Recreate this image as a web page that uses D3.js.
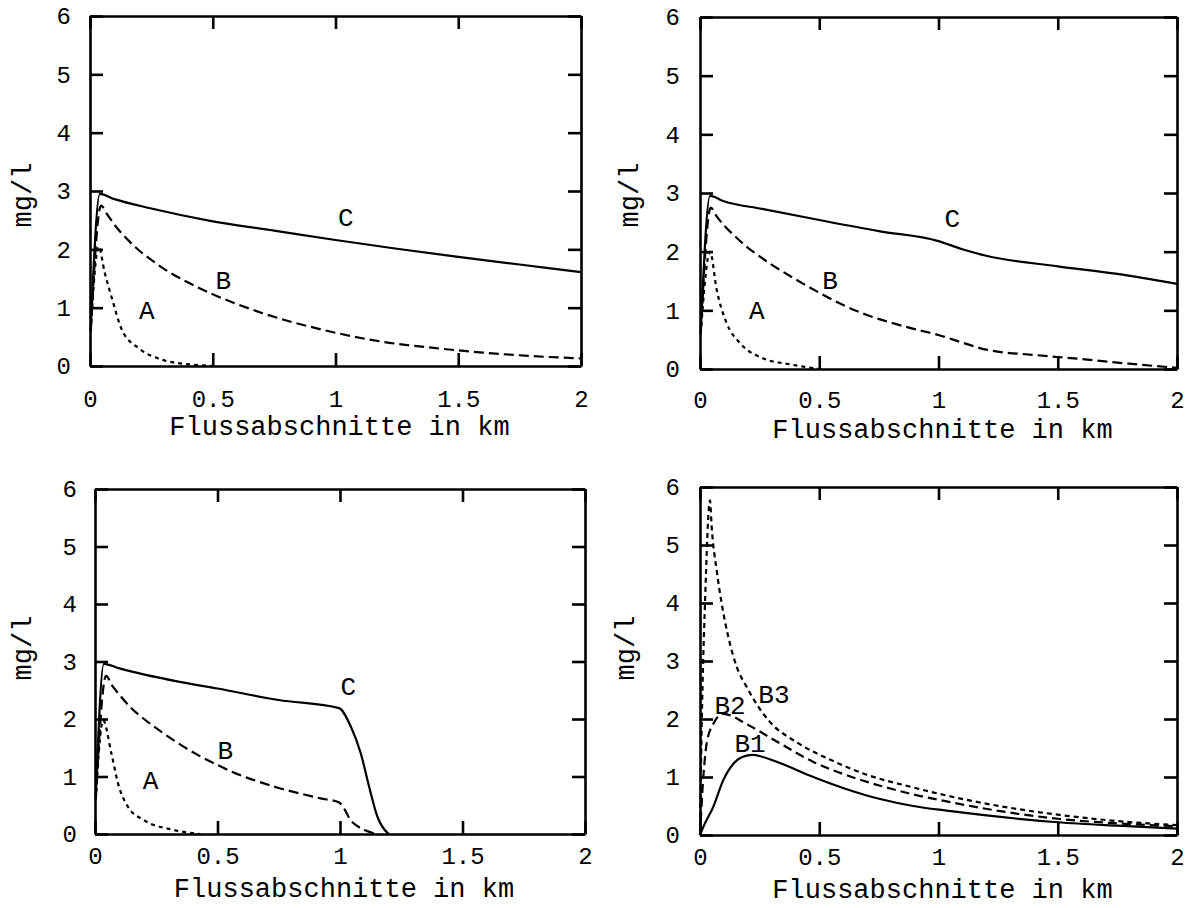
<!DOCTYPE html>
<html><head><meta charset="utf-8">
<script src="https://cdn.jsdelivr.net/npm/d3@7/dist/d3.min.js"></script>
<style>
body{margin:0;background:#fff}
svg{display:block;background:#fff}
text{font-family:"Liberation Mono","Courier New",monospace;fill:#000}
</style></head>
<body><svg id="c" width="1191" height="908"></svg>
<script>
// ---- axes / text ----
const xTicks = [0, 0.5, 1, 1.5, 2];
const xTickLabels = ["0", "0.5", "1", "1.5", "2"];
const yTicks = [0, 1, 2, 3, 4, 5, 6];
const yTickLabels = ["0", "1", "2", "3", "4", "5", "6"];
const xTitle = "Flussabschnitte in km";
const yTitle = "mg/l";

// ---- panel 1 (top left) ----
const p1A = [[0.003,0.6],[0.035,2.05],[0.06,1.6],[0.09,1.15],[0.13,0.62],[0.2,0.3],[0.3,0.1],[0.4,0.03],[0.5,0]];
const p1B = [[0.003,0.6],[0.045,2.75],[0.07,2.6],[0.1,2.42],[0.15,2.18],[0.2,1.98],[0.25,1.82],[0.3,1.67],[0.4,1.43],[0.5,1.23],[0.6,1.06],[0.7,0.91],[0.8,0.78],[0.9,0.67],[1.0,0.57],[1.2,0.41],[1.4,0.31],[1.6,0.23],[1.8,0.17],[2.0,0.13]];
const p1C = [[0.003,0.62],[0.04,2.95],[0.1,2.86],[0.25,2.7],[0.5,2.48],[0.75,2.32],[1,2.16],[1.25,2.01],[1.5,1.87],[1.75,1.74],[2,1.61]];
// ---- panel 2 (top right) ----
const p2A = [[0.003,0.6],[0.042,2.0],[0.07,1.35],[0.112,0.78],[0.168,0.44],[0.265,0.18],[0.377,0.08],[0.5,0]];
const p2B = [[0.003,0.6],[0.045,2.75],[0.07,2.6],[0.1,2.45],[0.15,2.25],[0.2,2.07],[0.25,1.92],[0.3,1.78],[0.4,1.53],[0.5,1.3],[0.6,1.09],[0.7,0.92],[0.8,0.79],[0.9,0.68],[1.0,0.58],[1.1,0.45],[1.2,0.33],[1.4,0.24],[1.6,0.17],[1.8,0.09],[2.0,0.02]];
const p2C = [[0.003,0.62],[0.042,2.95],[0.1,2.86],[0.26,2.73],[0.5,2.54],[0.75,2.35],[1,2.18],[1.1,2.04],[1.2,1.93],[1.5,1.75],[1.75,1.62],[2,1.45]];
// ---- panel 3 (bottom left) ----
const p3A = [[0.003,0.6],[0.033,1.98],[0.067,1.4],[0.094,0.88],[0.135,0.47],[0.2,0.24],[0.31,0.08],[0.43,0]];
const p3B = [[0.003,0.6],[0.045,2.75],[0.07,2.58],[0.1,2.42],[0.143,2.21],[0.2,2.0],[0.28,1.75],[0.35,1.55],[0.417,1.38],[0.5,1.2],[0.555,1.09],[0.62,0.98],[0.69,0.88],[0.75,0.8],[0.832,0.71],[0.92,0.62],[0.996,0.55],[1.02,0.42],[1.04,0.26],[1.07,0.14],[1.1,0.07],[1.15,0]];
const p3C = [[0.003,0.62],[0.036,2.96],[0.1,2.88],[0.34,2.65],[0.5,2.53],[0.75,2.33],[0.996,2.19],[1.044,1.87],[1.085,1.4],[1.119,0.82],[1.153,0.3],[1.194,0.02],[1.2,0]];
// ---- panel 4 (bottom right) ----
const p4B1 = [[0,0],[0.014,0.14],[0.056,0.49],[0.098,0.95],[0.14,1.23],[0.18,1.35],[0.22,1.38],[0.26,1.35],[0.335,1.24],[0.475,1.0],[0.615,0.79],[0.755,0.62],[0.894,0.5],[1.034,0.42],[1.174,0.35],[1.5,0.22],[1.75,0.16],[2,0.11]];
const p4B2 = [[0,0],[0.014,1.0],[0.028,1.58],[0.056,1.92],[0.098,2.09],[0.2,1.9],[0.335,1.58],[0.475,1.26],[0.615,1.03],[0.755,0.85],[0.894,0.7],[1.034,0.58],[1.174,0.47],[1.5,0.28],[1.75,0.2],[2,0.15]];
const p4B3 = [[0,0],[0.007,1.86],[0.021,4.0],[0.042,5.77],[0.049,5.31],[0.07,4.56],[0.091,3.99],[0.119,3.41],[0.154,2.9],[0.196,2.55],[0.245,2.21],[0.293,1.95],[0.405,1.6],[0.545,1.3],[0.685,1.06],[0.894,0.82],[1.034,0.68],[1.174,0.56],[1.5,0.35],[1.75,0.24],[2,0.17]];

// ---- styles ----
const solid = null, dashed = "10,5", dotted = "4,4";

const panels = [
  {box:[90,581,16,366], tickPad:24, yPad:19, titleY:435, yLab:[22,195],
   series:[[p1A,dotted],[p1B,dashed],[p1C,solid]],
   labels:[["A",0.231,0.96],["B",0.543,1.47],["C",1.042,2.56]]},
  {box:[700,1177,17,369], tickPad:22, yPad:20, titleY:438, yLab:[629,195],
   series:[[p2A,dotted],[p2B,dashed],[p2C,solid]],
   labels:[["A",0.238,1.0],["B",0.545,1.52],["C",1.058,2.57]]},
  {box:[95,585,489,834], tickPad:13, yPad:18, titleY:897, yLab:[22,648],
   series:[[p3A,dotted],[p3B,dashed],[p3C,solid]],
   labels:[["A",0.227,0.94],["B",0.532,1.47],["C",1.034,2.58]]},
  {box:[700,1177,487,835], tickPad:13, yPad:20, titleY:898, yLab:[625,648],
   series:[[p4B3,"5,4"],[p4B2,"9,5"],[p4B1,solid]],
   labels:[["B3",0.31,2.43],["B2",0.126,2.24],["B1",0.21,1.59]]}
];

const svg = d3.select("#c");
const line = d3.line().curve(d3.curveMonotoneX);

panels.forEach(p => {
  const [l,r,t,b] = p.box;
  const x = d3.scaleLinear().domain([0,2]).range([l,r]);
  const y = d3.scaleLinear().domain([0,6]).range([b,t]);
  const g = svg.append("g");

  const styleAxis = sel => {
    sel.attr("font-size",24).attr("font-family",null);
    sel.selectAll("path.domain").attr("stroke","#000").attr("stroke-width",2.6);
    sel.selectAll(".tick line").attr("stroke","#000").attr("stroke-width",2.6);
    sel.selectAll("text").style("font-family",'"Liberation Mono","Courier New",monospace')
       .style("font-size","24px").attr("fill","#000");
  };

  g.append("g").attr("transform",`translate(0,${b})`)
    .call(d3.axisBottom(x).tickValues(xTicks).tickFormat((d,i)=>xTickLabels[i])
      .tickSizeInner(-13).tickSizeOuter(0).tickPadding(p.tickPad)).call(styleAxis);
  g.append("g").attr("transform",`translate(0,${t})`)
    .call(d3.axisTop(x).tickValues(xTicks).tickFormat("")
      .tickSizeInner(-13).tickSizeOuter(0)).call(styleAxis);
  g.append("g").attr("transform",`translate(${l},0)`)
    .call(d3.axisLeft(y).tickValues(yTicks).tickFormat((d,i)=>yTickLabels[i])
      .tickSizeInner(-13).tickSizeOuter(0).tickPadding(p.yPad)).call(styleAxis);
  g.append("g").attr("transform",`translate(${r},0)`)
    .call(d3.axisRight(y).tickValues(yTicks).tickFormat("")
      .tickSizeInner(-13).tickSizeOuter(0)).call(styleAxis);

  p.series.forEach(([data,dash]) => {
    g.append("path")
      .attr("d", line.x(d=>x(d[0])).y(d=>y(d[1]))(data))
      .attr("fill","none").attr("stroke","#000").attr("stroke-width",2.2)
      .attr("stroke-dasharray", dash);
  });

  p.labels.forEach(([txt,lx,ly]) => {
    g.append("text").attr("x",x(lx)).attr("y",y(ly)).attr("dy","0.35em")
      .attr("text-anchor","middle").attr("font-size",26).text(txt);
  });

  g.append("text").attr("x",(l+r)/2+4).attr("y",p.titleY)
    .attr("text-anchor","middle").attr("font-size",27).text(xTitle);
  g.append("text").attr("transform",`translate(${p.yLab[0]},${p.yLab[1]}) rotate(-90)`)
    .attr("dy","0.35em").attr("text-anchor","middle").attr("font-size",27).text(yTitle);
});
</script></body></html>
